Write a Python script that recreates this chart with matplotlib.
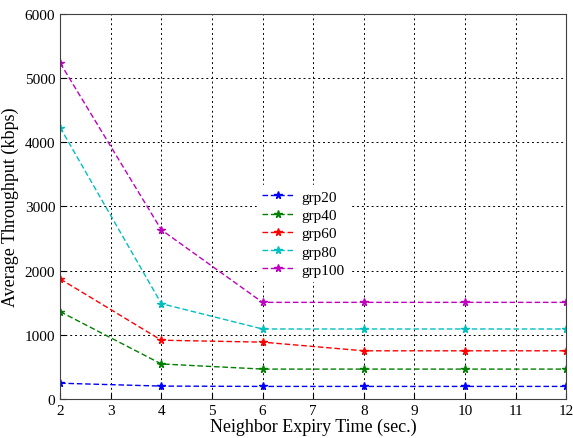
import matplotlib
matplotlib.use("Agg")
import matplotlib.pyplot as plt

plt.rcParams['font.family'] = ['Liberation Serif', 'DejaVu Serif']

# x ekseni: komsu zaman asimi
sure = [2, 4, 6, 8, 10, 12]

grp20 = [245, 200, 195, 195, 195, 195]
grp40 = [1360, 545, 465, 465, 465, 465]
grp60 = [1870, 915, 885, 750, 750, 750]
grp80 = [4230, 1485, 1090, 1090, 1090, 1090]
grp100 = [5235, 2635, 1505, 1505, 1505, 1505]

seriler = [("grp20", grp20, "#0000ff"),
           ("grp40", grp40, "#008000"),
           ("grp60", grp60, "#ff0000"),
           ("grp80", grp80, "#00bfbf"),
           ("grp100", grp100, "#bf00bf")]

fig = plt.figure(figsize=(5.73, 4.39), dpi=100)
ax = fig.add_axes([0.105, 0.089, 0.883, 0.877])

for isim, deger, renk in seriler:
    ax.plot(sure, deger, linestyle="--", color=renk, marker="*", markersize=5.5,
            linewidth=1.0, label=isim, dashes=(4, 2))

ax.set_xlim(2, 12)
ax.set_ylim(0, 6000)
ax.set_xticks(range(2, 13))
ax.set_yticks(range(0, 6001, 1000))
ax.grid(True, color="black", linestyle=(0, (2, 3)), linewidth=0.7)
ax.tick_params(direction="in", labelsize=11, length=4)
ax.set_xlabel("Neighbor Expiry Time (sec.)", fontsize=13, labelpad=1)
ax.set_ylabel("Average Throughput (kbps)", fontsize=13, labelpad=4)
for s in ax.spines.values():
    s.set_color("#404040")

leg = ax.legend(loc="center", bbox_to_anchor=(0.48, 0.43), frameon=True, fancybox=False,
                facecolor="white", edgecolor="white", framealpha=1, fontsize=11,
                handlelength=2.2, handletextpad=0.4, labelspacing=0.3, borderaxespad=0,
                borderpad=0.3)

fig.savefig("out.png", dpi=100)
